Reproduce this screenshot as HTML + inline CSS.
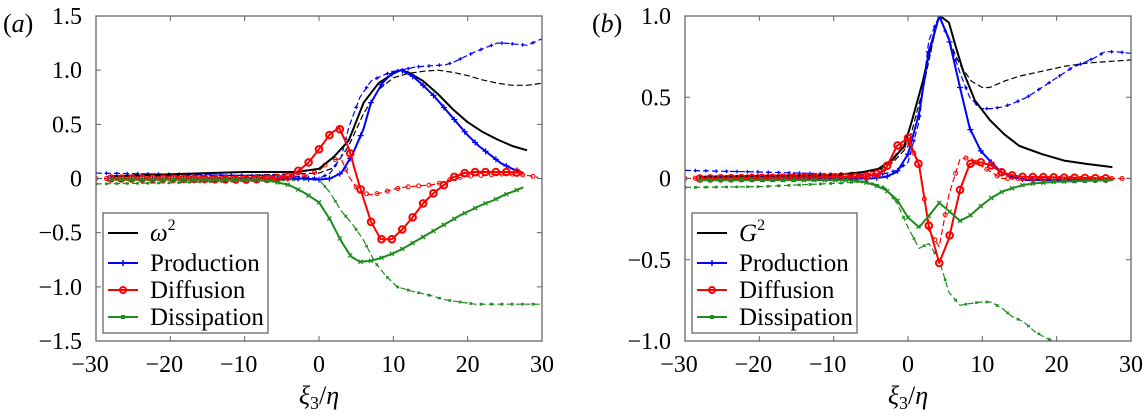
<!DOCTYPE html>
<html><head><meta charset="utf-8">
<style>
html,body{margin:0;padding:0;background:#fff;}
svg{display:block;}
svg text{font-family:"Liberation Serif","DejaVu Serif",serif;}
</style></head>
<body>
<svg id="fig" width="1145" height="419" viewBox="0 0 1145 419" font-family="Liberation Serif, DejaVu Serif, serif"></svg>
<script>
// ---------- Data: panel (a) ----------
const aBlackSolidX=[-28,-20,-10,-3,0,2,4,6,8,10,11,12,14,16,18,20,22,24,26,28];
const aBlackSolidY=[0.02,0.04,0.06,0.06,0.09,0.2,0.35,0.7,0.88,0.97,1.0,0.98,0.9,0.78,0.64,0.52,0.43,0.36,0.3,0.26];
const aBlackDashX=[-28,-10,0,2,4,6,8,10,12,14,16,18,20,22,24,26,28,30];
const aBlackDashY=[0.02,0.03,0.05,0.1,0.3,0.6,0.82,0.93,0.97,0.99,1.0,0.98,0.95,0.91,0.88,0.86,0.86,0.88];
const aProdX=[-28,-10,-2,0,1.5,3,4.5,6,7,8.5,10,11,12.5,14,15.5,17,18.5,20,21.5,23,24.5,26,27.5];
const aProdY=[0.0,0.0,0.0,-0.01,0.0,0.05,0.22,0.46,0.7,0.88,0.98,1.0,0.95,0.86,0.76,0.64,0.52,0.4,0.3,0.22,0.14,0.09,0.05];
const aProdDashX=[-30,-20,-10,-3,0,1.5,3,4,5.5,7,8.5,10,11,13,15,17,18,19.5,21,22.5,24,25,26.5,28,29,30];
const aProdDashY=[0.05,0.04,0.03,0.02,0.0,0.05,0.2,0.47,0.75,0.9,0.95,0.99,1.0,1.03,1.04,1.05,1.07,1.12,1.17,1.21,1.25,1.25,1.24,1.23,1.26,1.29];
const aDiffX=[-28,-20,-10,-6,-4,-3,-1.5,0,1.5,2.7,4,5.5,7,8.3,9.8,11.2,12.7,14,15.5,17,18,19.5,21,22.5,24,25.5,27.5];
const aDiffY=[0,0,-0.01,0,0.02,0.06,0.14,0.27,0.41,0.47,0.28,-0.08,-0.4,-0.56,-0.56,-0.47,-0.35,-0.23,-0.13,-0.05,0.01,0.05,0.06,0.06,0.06,0.06,0.05];
const aDiffDashX=[-30,-20,-10,-3,-2,0,1.5,3,4,5.5,7,8.5,10,11.5,13,15,16.5,18,20,22,24,26,28,29.5];
const aDiffDashY=[0,0,0,0,0.02,0.07,0.17,0.18,0.02,-0.13,-0.15,-0.13,-0.1,-0.08,-0.07,-0.06,-0.04,0,0.02,0.03,0.04,0.04,0.03,0.01];
const aDissX=[-28,-20,-8,-6,-4,-2,0,1.5,3,4.3,5.5,7,8.5,10,11.5,13,14.5,16,17.5,19,20.5,22,23.5,25,26.5,27.5];
const aDissY=[-0.01,-0.01,-0.01,-0.03,-0.06,-0.13,-0.22,-0.38,-0.58,-0.72,-0.77,-0.76,-0.73,-0.69,-0.64,-0.58,-0.52,-0.46,-0.4,-0.34,-0.29,-0.24,-0.2,-0.15,-0.11,-0.08];
const aDissDashX=[-30,-20,-10,-2,0,1.5,3,4.5,6,7.5,9,10.5,12.5,15,17,19,21,23,25,27,30];
const aDissDashY=[-0.05,-0.04,-0.02,-0.01,-0.01,-0.13,-0.3,-0.42,-0.57,-0.77,-0.9,-1.0,-1.04,-1.08,-1.12,-1.14,-1.16,-1.16,-1.16,-1.16,-1.16];
// ---------- Data: panel (b) ----------
const bBlackSolidX=[-28,-10,-6,-4,-2,-0.5,0.5,2,3,4,4.3,5.5,6.5,7.5,9,11,13,15,18,21,24,27.5];
const bBlackSolidY=[0.01,0.02,0.04,0.06,0.12,0.2,0.35,0.6,0.8,0.97,1.0,0.96,0.8,0.65,0.48,0.36,0.27,0.2,0.15,0.11,0.09,0.07];
const bBlackDashX=[-28,-10,-4,-2,0,2,4,4.3,5.5,7,8.5,10,11,13,15,18,21,24,27,30];
const bBlackDashY=[0.01,0.02,0.05,0.1,0.2,0.55,0.98,1.0,0.85,0.7,0.6,0.56,0.56,0.6,0.63,0.66,0.69,0.71,0.72,0.73];
const bProdX=[-28,-5,-3,-1.5,0,1.5,2.8,4.2,5.5,7,8.3,9.8,11.2,12.5,14,16,20,27.5];
const bProdY=[0,0,0.01,0.04,0.15,0.4,0.78,1.0,0.86,0.56,0.31,0.17,0.1,0.04,0.01,-0.01,-0.01,-0.01];
const bProdDashX=[-30,-20,-12,-8,-4,-1.5,0,1.5,2.8,4.2,5.5,7,8.3,9.8,11.2,12.7,14,16,18,20,22,23.5,25,26.5,28,30];
const bProdDashY=[0.05,0.04,0.03,0.02,0.02,0.05,0.1,0.35,0.85,1.0,0.85,0.65,0.5,0.43,0.43,0.44,0.46,0.5,0.56,0.62,0.68,0.71,0.74,0.78,0.78,0.77];
const bDiffX=[-28,-6,-4,-3,-1.5,0,1.5,2.8,4.2,5.5,7,8.3,9.8,11.2,12.5,14,15.5,17,27.5];
const bDiffY=[0,0.01,0.03,0.06,0.2,0.25,0.08,-0.29,-0.52,-0.37,-0.07,0.09,0.1,0.08,0.04,0.02,0.01,0.01,0];
const bDiffDashX=[-30,-4,-3,-1.5,0,1.5,2.8,4.2,5.5,7,8.3,9.8,11.2,12.5,14,30];
const bDiffDashY=[0,0.03,0.05,0.16,0.22,0.1,-0.32,-0.42,-0.1,0.12,0.13,0.08,0.04,0,0,0];
const bDissX=[-28,-8,-6,-4.5,-3,-1.5,0,1.5,2.8,4.2,5.5,7,8.3,9.8,11.2,12.7,14,15.5,17,20,27.5];
const bDissY=[-0.01,-0.01,-0.02,-0.04,-0.07,-0.13,-0.24,-0.3,-0.23,-0.15,-0.2,-0.26,-0.23,-0.17,-0.12,-0.08,-0.06,-0.04,-0.03,-0.02,-0.01];
const bDissDashX=[-30,-20,-10,-6,-4,-3,-1.5,0,1.5,2.8,4.2,5.5,7,8.3,9.8,11.2,12.7,14,15.5,17,18.5,19.5,21];
const bDissDashY=[-0.055,-0.05,-0.03,-0.02,-0.04,-0.06,-0.15,-0.3,-0.43,-0.4,-0.5,-0.7,-0.78,-0.77,-0.76,-0.76,-0.8,-0.85,-0.88,-0.94,-0.98,-1.0,-1.03];
const xTicks=[-30,-20,-10,0,10,20,30];
const aYTicks=[-1.5,-1.0,-0.5,0,0.5,1.0,1.5];
const bYTicks=[-1.0,-0.5,0,0.5,1.0];
const legendA=["ω","Production","Diffusion","Dissipation"];
const legendB=["G","Production","Diffusion","Dissipation"];

const NS="http://www.w3.org/2000/svg";
const FONT='"Liberation Serif", "DejaVu Serif", serif';
const svg=document.getElementById('fig');
function mk(tag,attrs,parent){const e=document.createElementNS(NS,tag);for(const k in attrs)e.setAttribute(k,attrs[k]);if(tag==='text')e.setAttribute('font-family',FONT);(parent||svg).appendChild(e);return e;}
function fmt(v){if(v===0)return "0";let s=Math.abs(v).toFixed(Number.isInteger(v)&&Math.abs(v)>=2?0:1);return (v<0?"\u2212":"")+s;}
const BLUE="#0000ff",RED="#ff0000",GREEN="#1e8c1e";

function panel(id,L,R,T,B,ymin,ymax,yticks,series,leg,label){
  const g=mk('g',{});
  
  
  const sx=v=>L+(v+30)/60*(R-L);
  const sy=v=>T+(ymax-v)/(ymax-ymin)*(B-T);
  const cid='clip'+id;
  const cp=mk('clipPath',{id:cid},g);mk('rect',{x:L,y:T,width:R-L,height:B-T},cp);
  const plot=mk('g',{'clip-path':'url(#'+cid+')'},g);
  
  
  series.forEach(s=>{
    const pts=s.x.map((x,i)=>sx(x).toFixed(1)+','+sy(s.y[i]).toFixed(1)).join(' ');
    const pl=mk('polyline',{points:pts,fill:'none',stroke:s.c,'stroke-width':s.dash?1.2:2,'stroke-linejoin':'round'},plot);
    if(s.dash)pl.setAttribute('stroke-dasharray','6,3');
    
    
    if(s.m){
      for(let xv=s.x[0];xv<=s.x[s.x.length-1]+1e-6;xv+=1.4){
        let k=0;while(k<s.x.length-2&&s.x[k+1]<xv)k++;
        const t=(xv-s.x[k])/(s.x[k+1]-s.x[k]);const yv=s.y[k]+t*(s.y[k+1]-s.y[k]);
        const px=sx(xv),py=sy(yv);const sm=s.dash?0.6:1;
        if(s.m==='+'){mk('path',{d:`M${px-3*sm},${py}h${6*sm}M${px},${py-3*sm}v${6*sm}`,stroke:s.c,'stroke-width':1.2},plot);}
        else if(s.m==='o'){mk('circle',{cx:px,cy:py,r:s.dash?2:3.3,fill:'none',stroke:s.c,'stroke-width':s.dash?1:2},plot);}
        else {mk('path',{d:`M${px-2*sm},${py-2*sm}l${4*sm},${4*sm}M${px-2*sm},${py+2*sm}l${4*sm},${-4*sm}`,stroke:s.c,'stroke-width':1.3},plot);}
      }
    }
  });
  const fr=mk('rect',{x:L,y:T,width:R-L,height:B-T,fill:'none',stroke:'#666','stroke-width':1.3},g);
  
  
  xTicks.forEach(v=>{const x=sx(v);
    mk('path',{d:`M${x},${B}v-5M${x},${T}v5`,stroke:'#666','stroke-width':1},g);
    const t=mk('text',{x:x-(v<0?6:0),y:B+31,'text-anchor':'middle','font-size':24},g);t.textContent=fmt(v);
    
    
  });
  yticks.forEach(v=>{const y=sy(v);
    mk('path',{d:`M${L},${y}h5M${R},${y}h-5`,stroke:'#666','stroke-width':1},g);
    const t=mk('text',{x:L-14,y:y+8,'text-anchor':'end','font-size':24},g);t.textContent=fmt(v);
    
    
  });
  const xt=mk('text',{x:(L+R)/2,y:404,'text-anchor':'middle','font-size':26,'font-style':'italic'},g);
  xt.innerHTML='ξ<tspan font-style="normal" font-size="18" dy="5">3</tspan><tspan dy="-5" font-style="normal">/</tspan>η';
  
  
  const pl=mk('text',{x:L-93,y:T+16,'font-size':26},g);
  pl.innerHTML='(<tspan font-style="italic">'+label+'</tspan>)';
  
  
  const lg=mk('g',{},g);
  
  
  const lx=L+7;
  mk('rect',{x:lx,y:213,width:165,height:120,fill:'#fff',stroke:'#666','stroke-width':1.3},lg);
  const ly=[233,263,290,317];const lc=['#000',BLUE,RED,GREEN];const lm=[null,'+','o','x'];
  leg.forEach((name,i)=>{
    const e=mk('g',{},lg);
    
    
    mk('line',{x1:lx+5,x2:lx+35,y1:ly[i],y2:ly[i],stroke:lc[i],'stroke-width':2},e);
    const cx=lx+20;
    if(lm[i]==='+')mk('path',{d:`M${cx},${ly[i]-3}v6`,stroke:lc[i],'stroke-width':1.5},e);
    if(lm[i]==='o')mk('circle',{cx:cx,cy:ly[i],r:3,fill:'none',stroke:lc[i],'stroke-width':2},e);
    if(lm[i]==='x')mk('rect',{x:cx-2,y:ly[i]-2,width:4,height:4,fill:lc[i]},e);
    const t=mk('text',{x:lx+47,y:ly[i]+8,'font-size':25},e);
    if(i===0)t.innerHTML='<tspan font-style="italic">'+name+'</tspan><tspan font-size="16" dy="-11">2</tspan>';
    else t.textContent=name;
  });
}
panel('a',96,542,16,341,-1.5,1.5,aYTicks,[
  {name:'omega2-dashed',x:aBlackDashX,y:aBlackDashY,c:'#000',dash:1},
  {name:'production-dashed',x:aProdDashX,y:aProdDashY,c:BLUE,dash:1,m:'+'},
  {name:'diffusion-dashed',x:aDiffDashX,y:aDiffDashY,c:RED,dash:1,m:'o'},
  {name:'dissipation-dashed',x:aDissDashX,y:aDissDashY,c:GREEN,dash:1,m:'x'},
  {name:'omega2-line',x:aBlackSolidX,y:aBlackSolidY,c:'#000'},
  {name:'production-line',x:aProdX,y:aProdY,c:BLUE,m:'+'},
  {name:'diffusion-line',x:aDiffX,y:aDiffY,c:RED,m:'o'},
  {name:'dissipation-line',x:aDissX,y:aDissY,c:GREEN,m:'x'}
],legendA,'a');
panel('b',685,1131,16,341,-1.0,1.0,bYTicks,[
  {name:'g2-dashed',x:bBlackDashX,y:bBlackDashY,c:'#000',dash:1},
  {name:'production-dashed',x:bProdDashX,y:bProdDashY,c:BLUE,dash:1,m:'+'},
  {name:'diffusion-dashed',x:bDiffDashX,y:bDiffDashY,c:RED,dash:1,m:'o'},
  {name:'dissipation-dashed',x:bDissDashX,y:bDissDashY,c:GREEN,dash:1,m:'x'},
  {name:'g2-line',x:bBlackSolidX,y:bBlackSolidY,c:'#000'},
  {name:'production-line',x:bProdX,y:bProdY,c:BLUE,m:'+'},
  {name:'diffusion-line',x:bDiffX,y:bDiffY,c:RED,m:'o'},
  {name:'dissipation-line',x:bDissX,y:bDissY,c:GREEN,m:'x'}
],legendB,'b');
</script>
</body></html>
